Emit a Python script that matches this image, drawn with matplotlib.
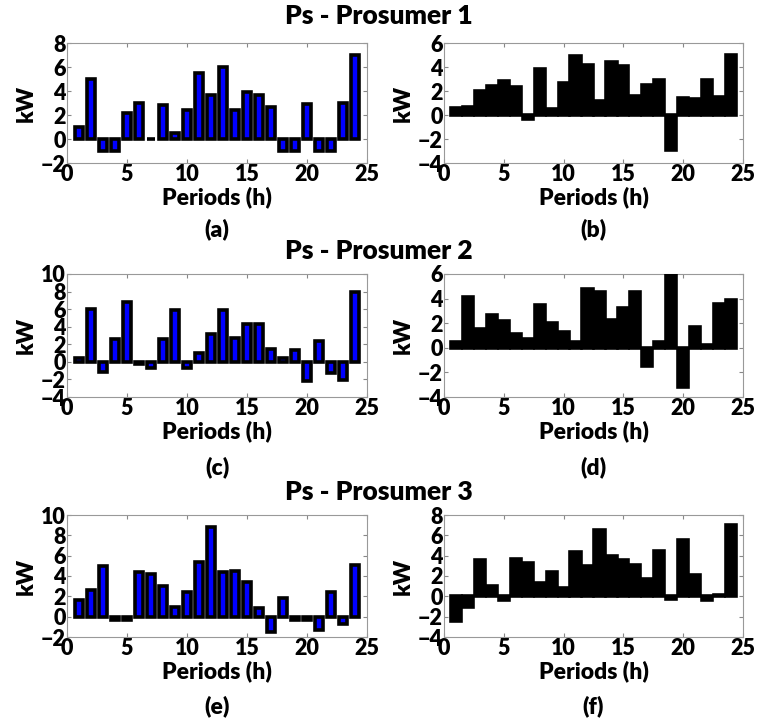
# Ps - Prosumer 1..3: net power per period (blue = left panels, black = right panels)

import numpy as np
import matplotlib.pyplot as plt

plt.rcParams['font.family'] = ['Lato', 'DejaVu Sans']
plt.rcParams['font.weight'] = 'heavy'
plt.rcParams['axes.labelweight'] = 'heavy'

periods = np.arange(1, 25)

ps_a = [1.0, 5.0, -1.0, -1.0, 2.2, 3.0, 0.0, 2.8, 0.5, 2.4, 5.5, 3.7,
        6.0, 2.4, 3.9, 3.7, 2.7, -1.0, -1.0, 2.9, -1.0, -1.0, 3.0, 7.0]
ps_b = [0.6, 0.7, 2.0, 2.4, 2.8, 2.3, -0.3, 3.8, 0.5, 2.7, 4.9, 4.2,
        1.2, 4.4, 4.1, 1.6, 2.5, 2.9, -2.9, 1.4, 1.3, 2.9, 1.5, 5.0]
ps_c = [0.4, 6.0, -1.2, 2.6, 6.8, -0.3, -0.7, 2.6, 5.9, -0.7, 1.0, 3.2,
        5.9, 2.7, 4.3, 4.3, 1.5, 0.4, 1.4, -2.2, 2.4, -1.3, -2.1, 8.0]
ps_d = [0.5, 4.1, 1.5, 2.7, 2.2, 1.1, 0.7, 3.5, 2.0, 1.3, 0.5, 4.8,
        4.5, 2.3, 3.2, 4.5, -1.5, 0.5, 5.9, -3.2, 1.7, 0.2, 3.6, 3.9]
ps_e = [1.6, 2.6, 5.0, -0.3, -0.3, 4.4, 4.2, 3.0, 1.0, 2.4, 5.4, 8.8,
        4.4, 4.5, 3.4, 0.9, -1.5, 1.8, -0.3, -0.3, -1.3, 2.4, -0.7, 5.1]
ps_f = [-2.4, -1.0, 3.6, 1.0, -0.4, 3.7, 3.3, 1.3, 2.4, 0.8, 4.4, 3.0,
        6.5, 4.0, 3.6, 3.1, 1.7, 4.5, -0.3, 5.5, 2.1, -0.4, 0.1, 7.0]

titles = ["Ps - Prosumer 1", "Ps - Prosumer 2", "Ps - Prosumer 3"]
letters = ["(a)", "(b)", "(c)", "(d)", "(e)", "(f)"]
ylims = [(-2, 8), (-4, 6), (-4, 10), (-4, 6), (-2, 10), (-4, 8)]

W, H = 758, 721
fig = plt.figure(figsize=(W / 100, H / 100), dpi=100)

# axes boxes in pixels: (left, right) and (top, bottom)
cols = [(67, 367), (444, 743)]
rows = [(43, 163), (274, 397), (515, 637)]
title_y = [16, 251, 492]
letter_y = [229, 467, 706]

data = [ps_a, ps_b, ps_c, ps_d, ps_e, ps_f]

for i, vals in enumerate(data):
    r, c = i // 2, i % 2
    x0, x1 = cols[c]
    y0, y1 = rows[r]
    ax = fig.add_axes([x0 / W, 1 - y1 / H, (x1 - x0) / W, (y1 - y0) / H])
    if c == 0:
        ax.bar(periods, vals, width=0.6, color="#0000ff", edgecolor="black",
               linewidth=2.6, zorder=3)
    else:
        ax.bar(periods, vals, width=0.85, color="black", edgecolor="black",
               linewidth=2.6, zorder=3)
    ax.set_xlim(0, 25)
    ax.set_ylim(*ylims[i])
    ax.set_xticks(np.arange(0, 26, 5))
    ax.set_yticks(np.arange(ylims[i][0], ylims[i][1] + 1, 2))
    ax.tick_params(direction="in", top=True, right=True, labelsize=15.5,
                   length=3, color="#888888", pad=1)
    for s in ax.spines.values():
        s.set_color("#999999")
        s.set_linewidth(0.8)
    ax.set_xlabel("Periods (h)", fontsize=16.5, fontweight="heavy", labelpad=1)
    ax.set_ylabel("kW", fontsize=16.5, fontweight="heavy", labelpad=3)
    fig.text((x0 + x1) / 2 / W, 1 - letter_y[r] / H, letters[i],
             ha="center", va="center", fontsize=16.5)

for r in range(3):
    fig.text(0.5, 1 - title_y[r] / H, titles[r], ha="center", va="center",
             fontsize=19)

fig.savefig("out.png", dpi=100)
